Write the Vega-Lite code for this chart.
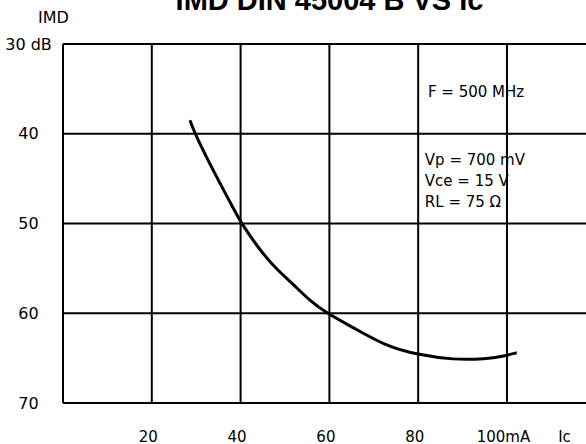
{
  "$schema": "https://vega.github.io/schema/vega-lite/v6.json",
  "autosize": {"type": "none"},
  "padding": {"left": 63, "top": 44, "right": 0, "bottom": 41},
  "width": 523,
  "height": 359,
  "background": "white",
  "config": {
    "view": {"stroke": null},
    "font": "DejaVu Sans"
  },
  "title": {
    "text": "IMD DIN 45004 B VS Ic",
    "fontSize": 29,
    "fontWeight": "bold",
    "font": "Liberation Sans",
    "color": "black",
    "baseline": "alphabetic",
    "offset": -30,
    "anchor": "middle",
    "dx": 5
  },
  "datasets": {
    "curve": [
      {"ic": 28.6, "imd": 38.5},
      {"ic": 29.7, "imd": 40.0},
      {"ic": 34.6, "imd": 44.85},
      {"ic": 38.7, "imd": 48.6},
      {"ic": 40.2, "imd": 50.0},
      {"ic": 44.4, "imd": 53.0},
      {"ic": 47.7, "imd": 54.9},
      {"ic": 51.9, "imd": 56.8},
      {"ic": 55.6, "imd": 58.6},
      {"ic": 59.4, "imd": 60.0},
      {"ic": 65.4, "imd": 61.6},
      {"ic": 72.9, "imd": 63.7},
      {"ic": 79.7, "imd": 64.6},
      {"ic": 87.9, "imd": 65.2},
      {"ic": 95.4, "imd": 65.1},
      {"ic": 99.0, "imd": 64.8},
      {"ic": 102.2, "imd": 64.4}
    ],
    "vgrid": [{"ic": 0}, {"ic": 20}, {"ic": 40}, {"ic": 60}, {"ic": 80}, {"ic": 100}],
    "hgrid": [{"imd": 30}, {"imd": 40}, {"imd": 50}, {"imd": 60}, {"imd": 70}],
    "notes": [
      {"ic": 82.2, "imd": 35.4, "label": "F = 500 MHz"},
      {"ic": 81.5, "imd": 42.95, "label": "Vp = 700 mV"},
      {"ic": 81.5, "imd": 45.3, "label": "Vce = 15 V"},
      {"ic": 81.5, "imd": 47.65, "label": "RL = 75 Ω"}
    ]
  },
  "layer": [
    {
      "data": {"name": "vgrid"},
      "mark": {"type": "rule", "color": "black", "strokeWidth": 2},
      "encoding": {
        "x": {
          "field": "ic", "type": "quantitative",
          "scale": {"domain": [0, 117.8], "nice": false, "zero": false},
          "axis": {
            "values": [20, 40, 60, 80, 100],
            "labelExpr": "datum.value == 100 ? '100mA' : datum.label",
            "domain": false, "ticks": false, "tickSize": 0, "grid": false,
            "labelFontSize": 15, "labelColor": "black", "labelFont": "DejaVu Sans",
            "labelBaseline": "alphabetic", "labelPadding": 38, "labelOffset": -4,
            "labelFlush": false,
            "title": "Ic", "titleFontSize": 15, "titleFontWeight": "normal", "titleColor": "black",
            "titleFont": "DejaVu Sans",
            "titleX": 501, "titleY": 38, "titleAlign": "center", "titleBaseline": "alphabetic"
          }
        }
      }
    },
    {
      "data": {"name": "hgrid"},
      "mark": {"type": "rule", "color": "black", "strokeWidth": 2},
      "encoding": {
        "y": {
          "field": "imd", "type": "quantitative",
          "scale": {"domain": [30, 70], "nice": false, "zero": false, "reverse": true},
          "axis": {
            "values": [30, 40, 50, 60, 70],
            "labelExpr": "datum.value == 30 ? '30 dB' : datum.label",
            "domain": false, "ticks": false, "tickSize": 0, "grid": false,
            "labelFontSize": 16, "labelColor": "black", "labelFont": "DejaVu Sans",
            "labelAlign": "center", "labelBaseline": "middle", "labelPadding": 35,
            "labelFlush": false,
            "title": "IMD", "titleAngle": 0, "titleFontSize": 16, "titleFontWeight": "normal",
            "titleColor": "black", "titleFont": "DejaVu Sans",
            "titleX": -10, "titleY": -27, "titleAlign": "center", "titleBaseline": "middle"
          }
        }
      }
    },
    {
      "data": {"name": "curve"},
      "mark": {"type": "line", "color": "black", "strokeWidth": 3, "interpolate": "basis"},
      "encoding": {
        "x": {"field": "ic", "type": "quantitative"},
        "y": {"field": "imd", "type": "quantitative"}
      }
    },
    {
      "data": {"name": "notes"},
      "mark": {"type": "text", "align": "left", "baseline": "middle", "fontSize": 15, "color": "black", "font": "DejaVu Sans"},
      "encoding": {
        "x": {"field": "ic", "type": "quantitative"},
        "y": {"field": "imd", "type": "quantitative"},
        "text": {"field": "label"}
      }
    }
  ]
}
